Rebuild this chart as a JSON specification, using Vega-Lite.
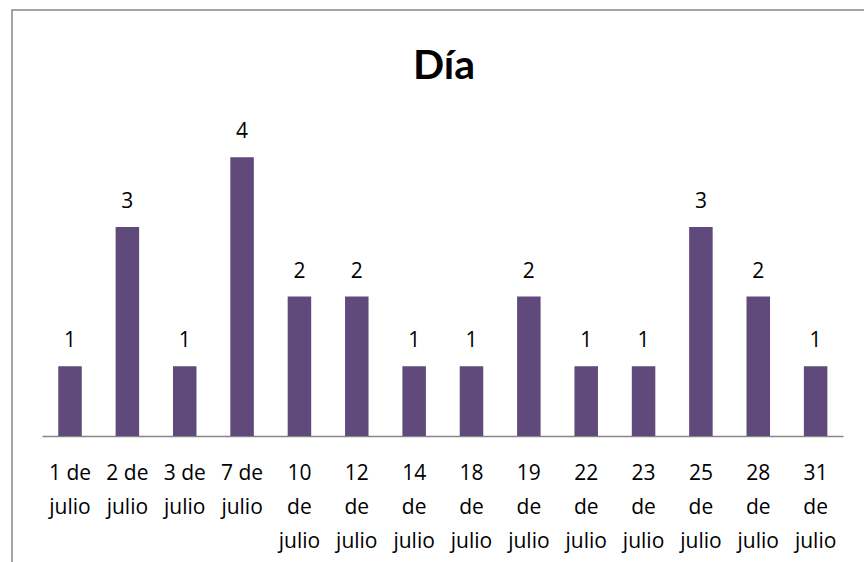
{
  "$schema": "https://vega.github.io/schema/vega-lite/v6.json",
  "width": 854,
  "height": 560,
  "autosize": {"type": "none"},
  "padding": {"left": 12, "top": 10, "right": 0, "bottom": 0},
  "background": "white",
  "title": {"text": "Día", "font": "Lato", "fontSize": 41, "fontWeight": "bold", "color": "black", "anchor": "middle", "frame": "group", "baseline": "alphabetic", "offset": -110, "dx": 5},
  "data": {"values": [
    {"dia": "1 de julio", "n": 1},
    {"dia": "2 de julio", "n": 3},
    {"dia": "3 de julio", "n": 1},
    {"dia": "7 de julio", "n": 4},
    {"dia": "10 de julio", "n": 2},
    {"dia": "12 de julio", "n": 2},
    {"dia": "14 de julio", "n": 1},
    {"dia": "18 de julio", "n": 1},
    {"dia": "19 de julio", "n": 2},
    {"dia": "22 de julio", "n": 1},
    {"dia": "23 de julio", "n": 1},
    {"dia": "25 de julio", "n": 3},
    {"dia": "28 de julio", "n": 2},
    {"dia": "31 de julio", "n": 1}
  ]},
  "encoding": {
    "x": {
      "field": "dia", "type": "nominal", "sort": null,
      "scale": {"paddingInner": 0.59, "paddingOuter": 0.74, "align": 0.545},
      "axis": {
        "title": null, "orient": "bottom", "offset": -134,
        "domainColor": "#868686", "domainWidth": 1.5, "domainDash": [0, 30, 801, 3000],
        "ticks": false, "labelAngle": 0, "labelFont": "Open Sans", "labelFontSize": 21,
        "labelColor": "black", "labelPadding": 26, "labelLineHeight": 34,
        "labelBaseline": "top", "labelOverlap": false, "labelLimit": 300,
        "labelExpr": "length(split(datum.label, ' ')[0]) < 2 ? [split(datum.label, ' ')[0] + ' de', 'julio'] : split(datum.label, ' ')"
      }
    },
    "y": {"field": "n", "type": "quantitative", "scale": {"domain": [-1.923, 6.112], "nice": false, "zero": false}, "axis": null}
  },
  "layer": [
    {"mark": {"type": "bar", "color": "#604A7B"}, "encoding": {"y2": {"datum": 0}}},
    {"mark": {"type": "text", "baseline": "alphabetic", "dy": -19, "font": "Open Sans", "fontSize": 21, "color": "black"}, "encoding": {"text": {"field": "n", "type": "quantitative"}}}
  ],
  "config": {"view": {"stroke": "#888888", "strokeWidth": 1.5}}
}
